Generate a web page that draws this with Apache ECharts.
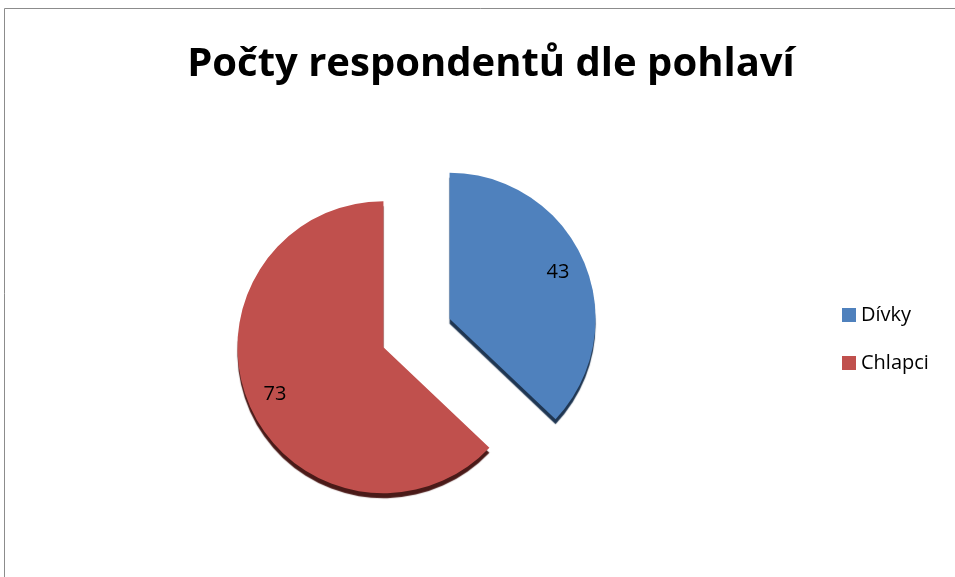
<!DOCTYPE html>
<html><head><meta charset="utf-8">
<script src="https://cdn.jsdelivr.net/npm/echarts@6/dist/echarts.min.js"></script>
<style>html,body{margin:0;padding:0;background:#fff}#c{width:955px;height:577px}</style>
</head><body><div id="c"></div>
<script>
const categories = ['Dívky', 'Chlapci'];
const values = [43, 73];
const colors = ['#4f81bd', '#c0504d'];
const edgeColors = ['#1f3652', '#4a1a18'];

const chart = echarts.init(document.getElementById('c'));
const center = [416.5, 333];
const offset = 36;
chart.setOption({
  animation: false,
  title: {
    text: 'Počty respondentů dle pohlaví',
    left: 486, top: 40, textAlign: 'center',
    textStyle: { fontFamily: 'Open Sans', fontWeight: 'bold', fontSize: 40, color: '#000' }
  },
  legend: {
    orient: 'vertical', left: 837, top: 300,
    itemWidth: 14, itemHeight: 14, itemGap: 28,
    icon: 'rect',
    textStyle: { fontFamily: 'Open Sans', fontSize: 20, color: '#000' },
    data: categories
  },
  graphic: [{
    type: 'rect', shape: { x: 4.5, y: 8.5, width: 1000, height: 700 },
    style: { fill: 'none', stroke: '#8c8c8c', lineWidth: 1 }, silent: true, z: -10
  }],
  series: [{
    type: 'pie', center: center, radius: 146, startAngle: 90, clockwise: true,
    selectedMode: 'multiple', selectedOffset: offset,
    label: { show: false }, labelLine: { show: false },
    emphasis: { disabled: true },
    data: categories.map((n, i) => ({
      name: n, value: values[i], selected: true,
      itemStyle: { color: colors[i], shadowColor: edgeColors[i], shadowOffsetY: 5, shadowOffsetX: 0, shadowBlur: 1 }
    }))
  }, {
    type: 'pie', center: center, radius: [108, 122], startAngle: 90, clockwise: true,
    selectedMode: 'multiple', selectedOffset: offset, silent: true,
    emphasis: { disabled: true },
    itemStyle: { color: 'rgba(0,0,0,0)' },
    label: { show: true, position: 'inside', formatter: '{c}', fontFamily: 'Open Sans', fontSize: 20, color: '#000' },
    labelLine: { show: false },
    data: categories.map((n, i) => ({ name: n, value: values[i], selected: true }))
  }]
});
</script></body></html>
